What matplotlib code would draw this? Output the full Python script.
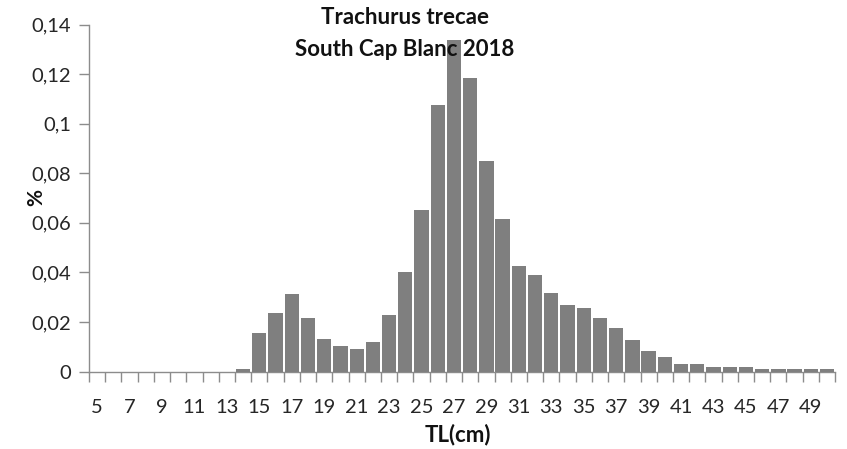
import matplotlib
matplotlib.use("Agg")
import matplotlib.pyplot as plt
import numpy as np

lengths = list(range(5, 51))
values = [0, 0, 0, 0, 0, 0, 0, 0, 0, 0.0011,
          0.0154, 0.0237, 0.0311, 0.0215, 0.0130, 0.0102, 0.0091, 0.0120, 0.0227, 0.0403,
          0.0652, 0.1076, 0.1337, 0.1184, 0.0849, 0.0617, 0.0426, 0.0391, 0.0318, 0.0267,
          0.0255, 0.0216, 0.0177, 0.0126, 0.0081, 0.0057, 0.0029, 0.0029, 0.0018, 0.0018,
          0.0018, 0.0011, 0.0011, 0.0011, 0.0011, 0.0011]
yticks = [0, 0.02, 0.04, 0.06, 0.08, 0.10, 0.12, 0.14]
ytick_labels = ["0", "0,02", "0,04", "0,06", "0,08", "0,1", "0,12", "0,14"]
title_line1 = "Trachurus trecae"
title_line2 = "South Cap Blanc 2018"
xlabel = "TL(cm)"
ylabel = "%"

plt.rcParams['font.family'] = ['Lato', 'DejaVu Sans']

fig = plt.figure(figsize=(8.47, 4.49), dpi=100)
ax = fig.add_axes([0.1051, 0.1726, 0.8809, 0.7724])

x = np.arange(len(lengths))
ax.bar(x, values, width=0.88, color="#7f7f7f", edgecolor="none", zorder=3)

ax.set_xlim(-0.5, len(lengths) - 0.5)
ax.set_ylim(0, 0.14)

ax.set_yticks(yticks)
ax.set_yticklabels(ytick_labels)
label_idx = [i for i, v in enumerate(lengths) if v % 2 == 1]
ax.set_xticks(label_idx)
ax.set_xticklabels([str(lengths[i]) for i in label_idx])
ax.set_xticks(np.arange(-0.5, len(lengths)), minor=True)
ax.tick_params(axis="x", which="major", length=0, pad=20, labelsize=14.5, colors="#262626")
ax.tick_params(axis="x", which="minor", length=7, width=1, color="#8c8c8c", direction="out")
ax.tick_params(axis="y", which="major", length=7, width=1, color="#8c8c8c", labelsize=14.5,
               labelcolor="#262626", pad=6)

for s in ["top", "right"]:
    ax.spines[s].set_visible(False)
for s in ["left", "bottom"]:
    ax.spines[s].set_color("#8c8c8c")
    ax.spines[s].set_linewidth(1)

fig.text(0.478, 0.962, title_line1, ha="center", va="center", fontsize=16,
         fontweight="bold", color="#111111")
fig.text(0.478, 0.889, title_line2, ha="center", va="center", fontsize=16,
         fontweight="bold", color="#111111")
fig.text(0.541, 0.033, xlabel, ha="center", va="center", fontsize=16, fontweight="bold",
         color="#111111")
fig.text(0.043, 0.56, ylabel, ha="center", va="center", fontsize=15, fontweight="bold",
         rotation=90, color="#111111")

fig.savefig("out.png", dpi=100)
